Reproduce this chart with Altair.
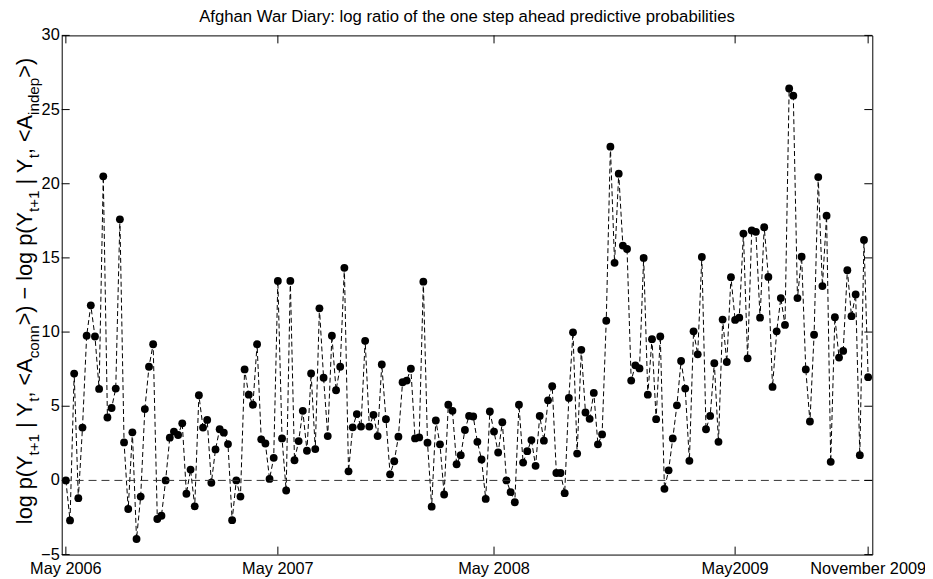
import altair as alt
import pandas as pd

# ---- data ----
values = [0, -2.7, 7.2, -1.2, 3.56, 9.75, 11.8, 9.7, 6.17, 20.5,
          4.24, 4.88, 6.19, 17.6, 2.56, -1.93, 3.24, -3.95, -1.09, 4.81,
          7.66, 9.18, -2.6, -2.38, 0, 2.88, 3.29, 3.06, 3.85, -0.9,
          0.73, -1.75, 5.74, 3.56, 4.08, -0.16, 2.09, 3.45, 3.22, 2.45,
          -2.68, 0, -1.09, 7.48, 5.78, 5.1, 9.18, 2.77, 2.49, 0.1,
          1.52, 13.45, 2.83, -0.68, 13.45, 1.36, 2.65, 4.69, 2.0, 7.21,
          2.11, 11.6, 6.92, 2.99, 9.75, 6.08, 7.66, 14.33, 0.61, 3.58,
          4.47, 3.63, 9.41, 3.63, 4.42, 2.99, 7.82, 4.13, 0.41, 1.29,
          2.95, 6.62, 6.73, 7.53, 2.83, 2.9, 13.4, 2.54, -1.77, 4.04,
          2.43, -0.95, 5.1, 4.69, 1.09, 1.7, 3.4, 4.35, 4.31, 2.6,
          1.41, -1.25, 4.65, 3.29, 1.88, 3.92, 0, -0.79, -1.47, 5.1,
          1.2, 1.97, 2.72, 0.98, 4.35, 2.68, 5.4, 6.35, 0.5, 0.5,
          -0.86, 5.56, 9.98, 1.81, 8.8, 4.58, 4.15, 5.9, 2.43, 3.1,
          10.77, 22.5, 14.67, 20.68, 15.83, 15.6, 6.73, 7.76, 7.55, 15.0,
          5.78, 9.52, 4.13, 9.7, -0.57, 0.68, 2.83, 5.06, 8.05, 6.19,
          1.32, 10.05, 8.5, 15.06, 3.45, 4.35, 7.9, 2.6, 10.84, 7.98,
          13.7, 10.82, 10.97, 16.64, 8.23, 16.85, 16.76, 10.97, 17.07, 13.72,
          6.3, 10.05, 12.29, 10.48, 26.42, 25.94, 12.29, 15.08, 7.48, 3.97,
          9.82, 20.45, 13.1, 17.85, 1.25, 11.0, 8.28, 8.73, 14.17, 11.07,
          12.54, 1.7, 16.21, 6.96]
x_tick_pos = [0, 51, 103, 161, 193]
x_tick_labels = ["May 2006", "May 2007", "May 2008", "May2009", "November 2009"]
y_ticks = [-5, 0, 5, 10, 15, 20, 25, 30]
y_tick_labels = ["\u22125", "0", "5", "10", "15", "20", "25", "30"]
title_text = "Afghan War Diary: log ratio of the one step ahead predictive probabilities"
ylabel_segments = [("log p(Y", 0), ("t+1", 1), (" | Y", 0), ("t", 1), (", <A", 0),
                   ("conn", 1), (">) \u2212 log p(Y", 0), ("t+1", 1), (" | Y", 0),
                   ("t", 1), (", <A", 0), ("indep", 1), (">)", 0)]

# ---- layout ----
W, H = 815, 522
FONT = "Liberation Sans"
TICK_FS = 16.4
TITLE_FS = 16.8
MAIN_FS = 21.8
SUB_FS = 15.3

df = pd.DataFrame({"i": list(range(len(values))), "v": values})
xs = alt.Scale(domain=[-1, 194], nice=False, zero=False)
ys = alt.Scale(domain=[-5, 30], nice=False, zero=False)

line = alt.Chart(df).mark_line(color="black", strokeWidth=1, strokeDash=[5, 3]).encode(
    x=alt.X("i:Q", scale=xs, axis=None),
    y=alt.Y("v:Q", scale=ys, axis=None),
)
pts = alt.Chart(df).mark_circle(color="black", size=62, opacity=1).encode(
    x=alt.X("i:Q", scale=xs, axis=None),
    y=alt.Y("v:Q", scale=ys, axis=None),
)
zero = alt.Chart(pd.DataFrame({"z": [0]})).mark_rule(
    color="#333333", strokeWidth=1, strokeDash=[8, 5]).encode(
    y=alt.Y("z:Q", scale=ys, axis=None))

# ---- MATLAB-style box axes: inward ticks on all four sides ----
TL = 8
xt = pd.DataFrame({"p": x_tick_pos, "lab": x_tick_labels})
yt = pd.DataFrame({"p": y_ticks, "lab": y_tick_labels})
tick_layers = [
    alt.Chart(xt).mark_rule(color="black", strokeWidth=1).encode(
        x=alt.X("p:Q", scale=xs, axis=None), y=alt.value(H), y2=alt.value(H - TL)),
    alt.Chart(xt).mark_rule(color="black", strokeWidth=1).encode(
        x=alt.X("p:Q", scale=xs, axis=None), y=alt.value(0), y2=alt.value(TL)),
    alt.Chart(yt).mark_rule(color="black", strokeWidth=1).encode(
        y=alt.Y("p:Q", scale=ys, axis=None), x=alt.value(0), x2=alt.value(TL)),
    alt.Chart(yt).mark_rule(color="black", strokeWidth=1).encode(
        y=alt.Y("p:Q", scale=ys, axis=None), x=alt.value(W - TL), x2=alt.value(W)),
    alt.Chart(xt).mark_text(font=FONT, fontSize=TICK_FS, align="center",
                            baseline="top", color="black").encode(
        x=alt.X("p:Q", scale=xs, axis=None), y=alt.value(H + 7), text="lab:N"),
    alt.Chart(yt).mark_text(font=FONT, fontSize=TICK_FS, align="right",
                            baseline="middle", color="black").encode(
        y=alt.Y("p:Q", scale=ys, axis=None), x=alt.value(-2), text="lab:N"),
]

# ---- y label built from pieces (with subscripts) ----
AW = {'l': .222, 'o': .556, 'g': .556, ' ': .278, 'p': .556, '(': .333, ')': .333,
      'Y': .667, 't': .278, '+': .584, '1': .556, '|': .26, ',': .278, '<': .584,
      '>': .584, 'A': .667, 'c': .5, 'n': .556, 'i': .222, 'd': .556, 'e': .556,
      '\u2212': .584}


def seg_width(s, fs):
    return sum(AW.get(ch, .556) for ch in s) * fs


total = sum(seg_width(t, SUB_FS if sub else MAIN_FS) for t, sub in ylabel_segments)
cursor = 257 + total / 2
label_layers = []
for txt, sub in ylabel_segments:
    fs = SUB_FS if sub else MAIN_FS
    lead = len(txt) - len(txt.lstrip())
    ypos = cursor - lead * AW[' '] * fs
    cursor -= seg_width(txt, fs)
    label_layers.append(
        alt.Chart(pd.DataFrame({"t": [txt.strip()]})).mark_text(
            font=FONT, fontSize=fs, angle=270, align="left", baseline="alphabetic",
            color="black").encode(
            text="t:N", x=alt.value(-23 if sub else -30), y=alt.value(ypos)))

title = alt.Chart(pd.DataFrame({"t": [title_text]})).mark_text(
    font=FONT, fontSize=TITLE_FS, align="center", baseline="alphabetic", color="black"
).encode(text="t:N", x=alt.value(W / 2), y=alt.value(-13))

chart = alt.layer(line, pts, zero, *tick_layers, *label_layers, title).properties(
    width=W, height=H,
    autosize=alt.AutoSizeParams(type="none"),
    padding={"left": 54, "top": 26, "right": 53, "bottom": 22},
).configure(background="white").configure_view(stroke="black", strokeWidth=1)

chart.save("out.html", embed_options={"renderer": "svg", "actions": False})
